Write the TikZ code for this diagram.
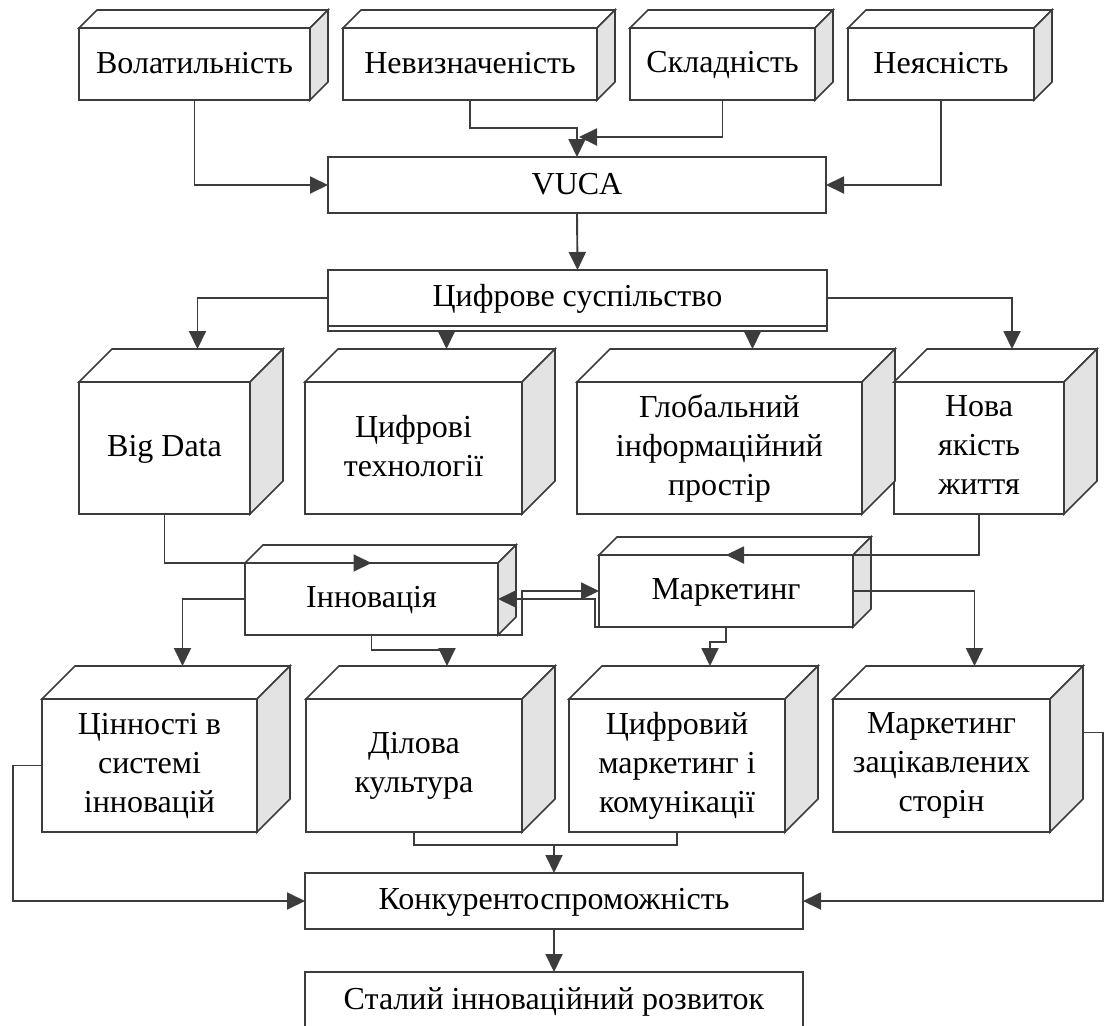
\documentclass[tikz,border=0pt]{standalone}
\usepackage{fontspec}
\setmainfont{Liberation Serif}
\usetikzlibrary{calc,arrows.meta}
\definecolor{ink}{HTML}{3C3C3C}
\definecolor{shade}{HTML}{E3E3E3}
\newcommand{\labfont}{\fontsize{32pt}{39pt}\selectfont}
\newcommand{\lineup}{\rule{0pt}{24pt}}
\newcommand{\linedn}{\rule[-5pt]{0pt}{5pt}}
% top and side faces of a box, #1 = node, #2 = depth
\newcommand{\cubefaces}[2]{%
  \draw[face, fill=white] (#1.north west) -- ++(#2,-#2) -- ($(#1.north east)+(#2,-#2)$) -- (#1.north east) -- cycle;
  \draw[face, fill=shade] (#1.north east) -- ++(#2,-#2) -- ($(#1.south east)+(#2,-#2)$) -- (#1.south east) -- cycle;
  \coordinate (#1-top) at ($(#1.north)+(#2,-#2)$);
  \coordinate (#1-back) at ($(#1.east)+(#2,-#2)$);
}
\tikzset{
  box/.style={draw=ink, line width=1.7pt, fill=white, inner sep=0pt, outer sep=0pt, align=center, font=\labfont,
    execute at begin node=\lineup, execute at end node=\linedn},
  face/.style={draw=ink, line width=1.7pt, line join=miter},
  wire/.style={draw=ink, line width=1.9pt},
  arr/.style={wire, -{Triangle[length=18pt,width=17pt]}},
}

\begin{document}
\begin{tikzpicture}[x=1pt,y=-1pt]
  \useasboundingbox (0,0) rectangle (1104,1026);
  \clip (0,0) rectangle (1104,1026);

  % VUCA factors
  \node[box, minimum width=231pt, minimum height=72pt] (vol) at (194.5,64) {Волатильність};
  \node[box, minimum width=254pt, minimum height=72pt] (unc) at (470,64) {Невизначеність};
  \node[box, minimum width=185pt, minimum height=72pt] (com) at (722.5,64) {Складність};
  \node[box, minimum width=186pt, minimum height=72pt] (amb) at (941,64) {Неясність};
  \cubefaces{vol}{18}
  \cubefaces{unc}{18}
  \cubefaces{com}{18}
  \cubefaces{amb}{18}

  \node[box, minimum width=498pt, minimum height=56pt] (vuca) at (577,185) {VUCA};
  \node[box, minimum width=499pt, minimum height=56pt] (soc) at (577.5,298) {Цифрове суспільство};

  % digital society
  \node[box, minimum width=171pt, minimum height=132pt] (bd) at (164.5,448) {Big Data};
  \node[box, minimum width=217pt, minimum height=132pt] (tech) at (413.5,448) {Цифрові\\технології};
  \node[box, minimum width=285pt, minimum height=132pt] (glob) at (719.5,448) {Глобальний\\інформаційний\\простір};
  \node[box, minimum width=170pt, minimum height=132pt] (life) at (979,448) {Нова\\якість\\життя};
  \cubefaces{bd}{33}
  \cubefaces{tech}{33}
  \cubefaces{glob}{33}
  \cubefaces{life}{33}

  \node[box, minimum width=253pt, minimum height=72pt] (inno) at (371.5,599) {Інновація};
  \node[box, minimum width=254pt, minimum height=72pt] (mark) at (726,591) {Маркетинг};
  \cubefaces{inno}{18}
  \cubefaces{mark}{18}

  \node[box, minimum width=215pt, minimum height=133pt] (cin) at (149.5,765.5) {Цінності в\\системі\\інновацій};
  \node[box, minimum width=216pt, minimum height=133pt] (del) at (414,765.5) {Ділова\\культура};
  \node[box, minimum width=216pt, minimum height=133pt] (dig) at (677,765.5) {Цифровий\\маркетинг і\\комунікації};
  \node[box, minimum width=217pt, minimum height=133pt] (sta) at (941.5,765.5) {Маркетинг\\зацікавлених\\сторін};
  \cubefaces{cin}{33}
  \cubefaces{del}{33}
  \cubefaces{dig}{33}
  \cubefaces{sta}{33}

  \node[box, minimum width=498pt, minimum height=56pt] (konk) at (554,901) {Конкурентоспроможність};
  \node[box, minimum width=498pt, minimum height=58pt] (sust) at (554,1001) {Сталий інноваційний розвиток};

  % connectors
  \draw[arr] (vol.south) |- (vuca.west);
  \draw[arr] (unc.south) -- ++(0,28) -| (vuca.north);
  \draw[arr] (com.south) |- ([xshift=2pt,yshift=20pt]vuca.north);
  \draw[arr] (amb.south) |- (vuca.east);
  \draw[arr] (vuca.south) -- (soc.north);

  \draw[arr] (soc.west) -| (bd-top);
  \draw[arr] (soc.south west) -- ++(0,5) -| (glob-top);
  \draw[arr] (soc.south east) -- ++(0,5) -| (tech-top);
  \draw[arr] (soc.east) -| (life-top);

  \draw[arr] (bd.south) |- (inno.north);
  \draw[arr] (life.south) |- (mark.north);
  \draw[arr] (inno.south east) -- ++(24,0) |- (mark.west);
  \draw[arr] (mark.south west) -- ++(-4,0) |- (inno.east);

  \draw[arr] (inno.west) -| (cin-top);
  \draw[arr] (inno.south) -- ++(0,15) -| (del-top);
  \draw[arr] (mark.south) -- ++(0,15) -| (dig-top);
  \draw[arr] (mark.east) -| (sta-top);

  \draw[arr] (cin.west) -- ++(-29,0) |- (konk.west);
  \draw[arr] (sta-back) -- ++(20,0) |- (konk.east);
  \draw[wire] (del.south) -- ++(0,13) coordinate (join) -| (dig.south);
  \draw[arr] (join -| konk.north) -- (konk.north);
  \draw[arr] (konk.south) -- (sust.north);
\end{tikzpicture}
\end{document}
